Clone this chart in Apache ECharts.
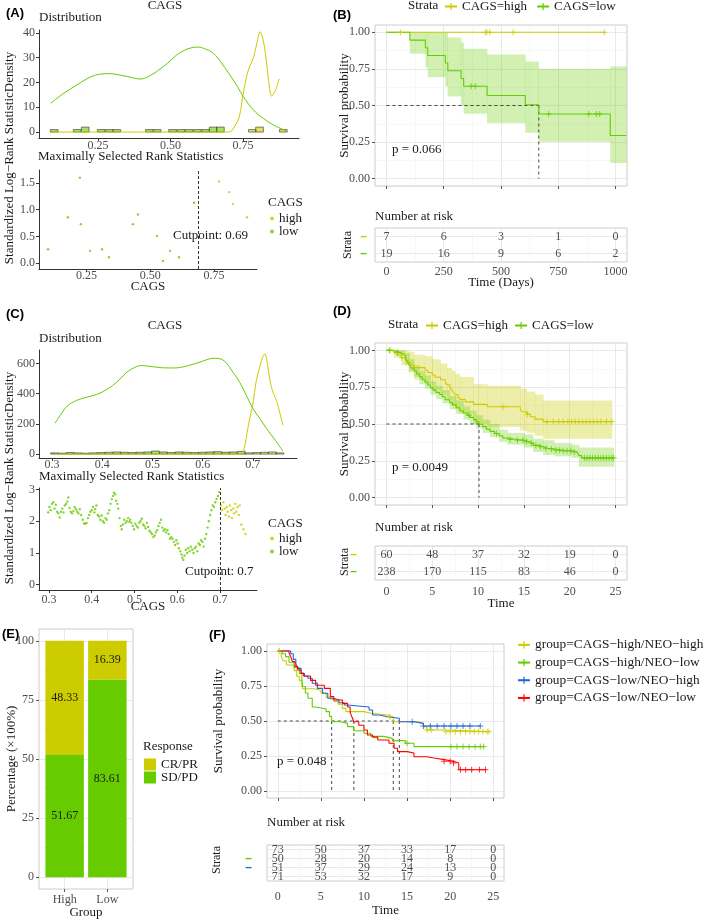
<!DOCTYPE html>
<html>
<head>
<meta charset="utf-8">
<title>CAGS figure</title>
<script src="https://cdn.jsdelivr.net/npm/echarts@6.0.0/dist/echarts.min.js"></script>
<style>
html,body{margin:0;padding:0;background:#ffffff;}
#chart{width:709px;height:920px;}
</style>
</head>
<body>
<div id="chart"></div>
<script>
// ================= DATA =================
// (A) cohort 1 – distribution of CAGS
const aTicksX = [0.25, 0.5, 0.75];
const aTicksDensity = [0, 10, 20, 30, 40];
const aTicksStat = [0, 0.5, 1, 1.5];
const aLowDensity = [[0.087,11.6],[0.13,15.5],[0.177,19],[0.22,22],[0.257,23.4],[0.29,23.6],[0.326,23],[0.36,22.2],[0.395,21.4],[0.42,22.2],[0.452,24.4],[0.49,27.8],[0.521,31.1],[0.56,33.6],[0.596,34.3],[0.625,33.3],[0.648,31.8],[0.675,28],[0.705,23],[0.73,18.5],[0.751,14.3],[0.785,9],[0.82,5.5],[0.86,2.5],[0.9,0.5]];
const aHighDensity = [[0.087,0],[0.3,0],[0.5,0],[0.7,0],[0.711,0.5],[0.725,3],[0.737,6],[0.75,15],[0.768,25],[0.786,30],[0.798,36],[0.809,40.5],[0.818,38],[0.828,31],[0.838,21],[0.849,14.5],[0.862,17],[0.875,21.5]];
const aHistLow = [[0.099,1],[0.178,1],[0.206,2],[0.261,1],[0.289,1],[0.315,1],[0.427,1],[0.454,1],[0.507,1],[0.536,1],[0.564,1],[0.593,1],[0.621,1],[0.647,2],[0.672,2]];
const aHistHigh = [[0.782,1],[0.807,2],[0.889,1]];
const aHistBinWidth = 0.0265;
const aStatLow = [[0.099,0.26],[0.177,0.86],[0.224,1.6],[0.228,0.73],[0.264,0.23],[0.311,0.26],[0.338,0.11],[0.432,0.73],[0.452,0.91],[0.527,0.51],[0.55,0.04],[0.578,0.23],[0.613,0.11],[0.672,1.13]];
const aStatHigh = [[0.77,1.53],[0.81,1.33],[0.825,1.11],[0.88,0.86]];
const aCutpoint = 0.69;

// (B) cohort 1 – Kaplan-Meier
const survTicks = [0, 0.25, 0.5, 0.75, 1];
const bTimes = [0, 250, 500, 750, 1000];
const bHighCurve = [[0,1],[951,1]];
const bHighCensor = [61,432,439,451,553,951];
const bLowCurve = [[0,1],[102,0.947],[170,0.895],[180,0.842],[257,0.79],[268,0.737],[326,0.684],[337,0.632],[439,0.568],[606,0.505],[665,0.442],[977,0.295],[1047,0.295]];
const bLowCensor = [370,388,708,883,916,931];
const bLowBand = [[102,0.854,1],[170,0.76,1],[180,0.694,1],[257,0.63,1],[267,0.562,0.964],[325,0.5,0.93],[337,0.443,0.888],[439,0.379,0.849],[606,0.313,0.801],[664,0.253,0.751],[977,0.107,0.767],[1047,0.107,0.767]];
const bMedians = [665];
const bRiskHigh = [7,6,3,1,0];
const bRiskLow = [19,16,9,6,2];

// (C) cohort 2 – distribution of CAGS
const cTicksX = [0.3, 0.4, 0.5, 0.6, 0.7];
const cTicksDensity = [0, 200, 400, 600];
const cTicksStat = [0, 1, 2, 3];
const cLowDensity = [[0.306,205],[0.318,265],[0.33,318],[0.349,356],[0.37,378],[0.389,395],[0.41,430],[0.429,477],[0.45,545],[0.465,575],[0.478,587],[0.495,582],[0.52,572],[0.545,571],[0.57,585],[0.595,610],[0.621,635],[0.64,625],[0.661,540],[0.674,475],[0.687,390],[0.7,303],[0.715,230],[0.727,171],[0.745,90],[0.76,20]];
const cHighDensity = [[0.306,0],[0.45,0],[0.6,0],[0.677,0],[0.683,40],[0.69,170],[0.696,270],[0.7,330],[0.707,488],[0.714,580],[0.72,645],[0.724,664],[0.729,600],[0.734,488],[0.74,410],[0.747,356],[0.754,270],[0.76,191]];
const cHistLow = [[0.305,8],[0.32,6],[0.336,10],[0.351,8],[0.367,6],[0.382,8],[0.398,10],[0.413,12],[0.429,14],[0.444,12],[0.46,10],[0.475,12],[0.491,14],[0.506,20],[0.522,14],[0.537,10],[0.553,14],[0.568,12],[0.584,10],[0.599,12],[0.615,14],[0.63,16],[0.646,12],[0.661,14],[0.677,18]];
const cHistHigh = [[0.692,8],[0.708,10],[0.723,12],[0.739,14],[0.754,8]];
const cHistBinWidth = 0.0155;
const cStatLow = [[0.298,2.28],[0.301,2.45],[0.304,2.35],[0.307,2.55],[0.31,2.6],[0.313,2.4],[0.316,2.52],[0.319,2.3],[0.322,2.25],[0.325,2.12],[0.328,2.3],[0.331,2.4],[0.334,2.28],[0.337,2.5],[0.34,2.55],[0.343,2.62],[0.345,2.75],[0.348,2.42],[0.351,2.3],[0.354,2.25],[0.357,2.32],[0.36,2.45],[0.363,2.38],[0.366,2.3],[0.369,2.25],[0.372,2.38],[0.375,2.2],[0.379,2.05],[0.382,1.93],[0.385,1.92],[0.388,1.95],[0.391,2.1],[0.394,2.2],[0.397,2.3],[0.4,2.35],[0.403,2.45],[0.406,2.28],[0.408,2.38],[0.411,2.5],[0.414,2.2],[0.417,2.15],[0.42,2.05],[0.423,2.18],[0.426,2.0],[0.429,1.95],[0.432,2.1],[0.435,2.05],[0.438,2.25],[0.441,2.35],[0.444,2.55],[0.447,2.7],[0.45,2.8],[0.452,2.9],[0.455,2.85],[0.457,2.65],[0.46,2.55],[0.462,2.4],[0.465,2.1],[0.468,1.85],[0.47,1.75],[0.473,1.9],[0.476,2.05],[0.479,1.95],[0.482,2.0],[0.485,2.1],[0.488,1.98],[0.49,2.05],[0.493,1.95],[0.496,1.85],[0.499,1.75],[0.502,1.92],[0.505,1.85],[0.508,1.8],[0.511,1.95],[0.514,2.0],[0.517,2.08],[0.52,1.9],[0.523,1.85],[0.526,1.78],[0.529,1.95],[0.532,1.82],[0.535,1.7],[0.538,1.65],[0.541,1.6],[0.544,1.5],[0.547,1.55],[0.55,1.65],[0.553,1.72],[0.556,1.85],[0.559,1.95],[0.562,2.05],[0.565,1.8],[0.568,1.7],[0.571,1.75],[0.574,1.65],[0.577,1.72],[0.58,1.6],[0.583,1.45],[0.586,1.5],[0.589,1.45],[0.592,1.35],[0.595,1.25],[0.598,1.4],[0.601,1.3],[0.604,1.15],[0.607,1.05],[0.61,0.95],[0.612,0.85],[0.614,0.78],[0.617,0.92],[0.62,1.1],[0.623,1.0],[0.626,1.15],[0.629,1.05],[0.632,1.2],[0.635,1.1],[0.638,1.0],[0.641,1.15],[0.644,1.2],[0.647,1.05],[0.65,1.3],[0.653,1.25],[0.656,1.4],[0.659,1.35],[0.662,1.2],[0.665,1.45],[0.668,1.6],[0.671,1.8],[0.674,2.0],[0.677,2.2],[0.68,2.35],[0.683,2.5],[0.686,2.45],[0.689,2.6],[0.692,2.7],[0.695,2.8],[0.698,2.92]];
const cStatHigh = [[0.702,2.5],[0.705,2.35],[0.708,2.6],[0.711,2.4],[0.713,2.2],[0.716,2.45],[0.718,2.3],[0.721,2.15],[0.723,2.5],[0.726,2.35],[0.728,2.1],[0.731,2.4],[0.733,2.25],[0.736,2.55],[0.738,2.3],[0.741,2.45],[0.744,2.2],[0.746,2.5],[0.75,1.9],[0.755,1.75],[0.76,1.6]];
const cCutpoint = 0.7;

// (D) cohort 2 – Kaplan-Meier
const dTimes = [0, 5, 10, 15, 20, 25];
const dHighCurve = [[0,1],[0.8,0.983],[1.2,0.967],[1.6,0.95],[2.1,0.933],[2.4,0.917],[2.7,0.9],[3.0,0.883],[4.2,0.867],[4.5,0.85],[5.0,0.833],[5.3,0.817],[5.9,0.8],[6.4,0.783],[6.6,0.767],[6.9,0.75],[7.1,0.733],[7.3,0.717],[7.5,0.7],[7.8,0.683],[8.0,0.667],[8.6,0.65],[9.5,0.633],[11.0,0.617],[14.6,0.6],[14.8,0.583],[15.3,0.566],[15.7,0.549],[16.2,0.533],[17.1,0.516],[24.6,0.516]];
const dHighCensor = [0.4,1.7,12.7,15.4,17.5,18.2,18.8,19.3,19.8,20.2,20.6,21.0,21.4,21.8,22.2,22.6,23.0,23.4,24.0,24.6];
const dLowCurve = [[0,1],[0.5,0.996],[1.0,0.987],[1.4,0.975],[1.8,0.962],[2.1,0.94],[2.3,0.92],[2.5,0.9],[2.7,0.88],[3.0,0.86],[3.3,0.84],[3.6,0.82],[3.9,0.8],[4.2,0.785],[4.5,0.765],[4.8,0.745],[5.1,0.73],[5.4,0.715],[5.8,0.7],[6.1,0.685],[6.4,0.665],[6.9,0.645],[7.2,0.63],[7.6,0.61],[8.0,0.59],[8.4,0.575],[8.8,0.56],[9.1,0.545],[9.5,0.53],[9.8,0.515],[10.1,0.498],[10.5,0.482],[10.9,0.465],[11.3,0.45],[11.8,0.435],[12.3,0.42],[12.7,0.405],[13.2,0.395],[14.2,0.39],[15.0,0.38],[15.6,0.37],[16.0,0.355],[16.6,0.345],[17.1,0.335],[17.6,0.33],[18.3,0.322],[19.2,0.318],[20.2,0.31],[20.8,0.3],[21.0,0.285],[21.3,0.27],[24.8,0.27]];
const dLowCensor = [0.3,1.2,9.0,12.0,13.5,14.3,14.9,15.3,15.8,16.3,16.8,17.4,18.0,18.5,18.9,19.3,19.7,20.1,20.5,21.6,21.9,22.2,22.5,22.8,23.1,23.4,23.7,24.0,24.3,24.6,24.8];
const dHighBand = [[0,1,1],[0.8,0.95,1],[1.6,0.9,1],[2.4,0.85,0.99],[3.0,0.8,0.97],[4.2,0.77,0.96],[5.0,0.73,0.94],[5.9,0.7,0.91],[6.6,0.66,0.88],[7.1,0.63,0.86],[7.5,0.6,0.84],[8.0,0.57,0.82],[9.5,0.5,0.77],[11.0,0.48,0.76],[14.6,0.455,0.74],[15.3,0.44,0.72],[16.2,0.42,0.7],[17.1,0.4,0.66],[24.6,0.4,0.66]];
const dLowBand = [[0,1,1],[1.0,0.97,1],[2.0,0.9,0.98],[2.5,0.86,0.94],[3.0,0.82,0.9],[3.6,0.77,0.86],[4.2,0.74,0.83],[4.8,0.7,0.79],[5.4,0.67,0.76],[6.1,0.64,0.73],[6.9,0.6,0.69],[7.6,0.57,0.66],[8.4,0.53,0.62],[9.1,0.5,0.59],[9.8,0.47,0.56],[10.5,0.44,0.53],[11.3,0.41,0.5],[12.3,0.38,0.46],[13.2,0.36,0.44],[15.0,0.34,0.43],[16.0,0.31,0.4],[17.1,0.29,0.39],[18.3,0.28,0.37],[20.2,0.27,0.36],[21.0,0.21,0.34],[24.8,0.21,0.34]];
const dMedians = [10.1];
const dRiskHigh = [60,48,37,32,19,0];
const dRiskLow = [238,170,115,83,46,0];

// (E) response by group
const eGroups = ['High', 'Low'];
const ePctTicks = [0, 25, 50, 75, 100];
const eCRPR = [48.33, 16.39];
const eSDPD = [51.67, 83.61];

// (F) CAGS x NEO
const fNames = ['group=CAGS−high/NEO−high','group=CAGS−high/NEO−low','group=CAGS−low/NEO−high','group=CAGS−low/NEO−low'];
const fTimes = [0, 5, 10, 15, 20, 25];
const fCurveHH = [[0,1],[0.4,0.96],[0.6,0.93],[1.0,0.9],[1.9,0.86],[2.2,0.82],[2.5,0.79],[2.8,0.75],[2.9,0.73],[4.2,0.72],[5.0,0.7],[5.6,0.67],[6.1,0.655],[6.5,0.64],[7.0,0.62],[7.5,0.59],[7.9,0.567],[10.0,0.555],[10.8,0.543],[12.7,0.53],[13.4,0.495],[16.2,0.483],[16.9,0.46],[17.3,0.436],[19.3,0.424],[24.5,0.424]];
const fCurveHL = [[0,1],[0.5,0.98],[0.9,0.96],[1.3,0.92],[1.9,0.88],[2.5,0.84],[2.8,0.78],[2.9,0.746],[3.2,0.7],[3.5,0.662],[4.0,0.6],[4.4,0.586],[5.6,0.567],[6.0,0.533],[6.25,0.495],[7.3,0.483],[8.1,0.46],[8.8,0.43],[10.0,0.412],[10.8,0.39],[12.3,0.376],[13.3,0.36],[14.8,0.341],[15.8,0.317],[23.9,0.317]];
const fCurveLH = [[0,1],[1.5,0.98],[1.8,0.94],[2.1,0.91],[2.3,0.876],[2.7,0.84],[3.1,0.82],[3.5,0.805],[4.0,0.77],[4.6,0.733],[5.2,0.698],[5.8,0.662],[6.5,0.65],[7.1,0.63],[7.7,0.614],[8.1,0.6],[10.6,0.579],[11.0,0.543],[11.8,0.53],[12.7,0.52],[14.1,0.495],[15.8,0.483],[16.9,0.464],[23.5,0.464]];
const fCurveLL = [[0,1],[1.3,0.985],[1.5,0.96],[1.7,0.924],[2.0,0.89],[2.3,0.864],[2.7,0.84],[3.0,0.821],[3.8,0.79],[4.4,0.755],[5.4,0.733],[6.1,0.674],[6.5,0.65],[7.5,0.626],[8.1,0.6],[8.4,0.56],[8.6,0.53],[8.83,0.495],[9.4,0.47],[10.0,0.436],[10.4,0.4],[11.0,0.385],[11.6,0.364],[12.9,0.341],[13.5,0.305],[13.9,0.281],[15.0,0.271],[15.8,0.245],[17.3,0.236],[18.1,0.224],[19.3,0.212],[20.4,0.2],[21.0,0.152],[24.1,0.152]];
const fCensorHH = [0.2,13.0,17.3,17.8,19.5,20.0,20.6,21.2,21.8,22.3,22.8,23.3,23.8,24.3,24.5];
const fCensorHL = [15.0,20.1,20.8,21.5,22.2,22.9,23.5,23.9];
const fCensorLH = [15.6,16.9,17.7,18.5,19.3,20.1,20.8,21.5,22.3,23.5];
const fCensorLL = [19.3,20.0,20.4,21.2,21.8,22.5,23.4,24.1];
const fMedians = [6.25, 8.83, 13.4, 14.1];
const fRisk = [[73,50,37,33,17,0],[50,28,20,14,8,0],[51,37,29,24,13,0],[71,53,32,17,9,0]];

// ================= STYLE =================
const SERIF = 'Liberation Serif', SANS = 'Liberation Sans';
const TICK_TXT = '#4d4d4d', TITLE_TXT = '#1a1a1a';
const C_HIGH = '#CCCC00', C_LOW = '#66CC00', C_BLUE = '#2166D9', C_RED = '#FF0000';
const F_COLORS = [C_HIGH, C_LOW, C_BLUE, C_RED];
const BAND_HIGH = 'rgba(204,204,0,0.33)', BAND_LOW = 'rgba(102,204,0,0.3)';
const HIST_LOW = 'rgba(102,204,0,0.6)', HIST_HIGH = 'rgba(204,204,0,0.6)';
const CROSS = 'path://M5,0L5,10M0,5L10,5';
const E_BAR_WIDTH = 0.9;

// ================= BUILDERS =================
const grids = [], xAxes = [], yAxes = [], series = [], legends = [], graphics = [];

function addGrid(left, top, width, height, framed) {
  grids.push({left, top, width, height, containLabel: false, show: !!framed,
    borderColor: '#cccccc', borderWidth: 1, backgroundColor: framed ? '#ffffff' : 'transparent'});
  return grids.length - 1;
}
function minorOf(t) { return t.slice(1).map((v, i) => (v + t[i]) / 2); }

function addAxis(dim, gridIndex, o) {
  const a = {type: 'value', gridIndex, min: o.min, max: o.max, inverse: !!o.inverse, silent: true};
  if (o.kind === 'classic') {
    a.axisLine = {show: true, onZero: false, lineStyle: {color: '#333333', width: 1}};
    a.axisTick = {show: true, length: 3, customValues: o.ticks, lineStyle: {color: '#333333'}};
    a.splitLine = {show: false};
  } else if (o.kind === 'km') {
    a.axisLine = {show: false, onZero: false};
    a.axisTick = {show: o.tick !== false, length: 3, customValues: o.ticks, lineStyle: {color: '#555555'}};
    a.splitLine = {show: true, lineStyle: {color: '#e3e3e3', width: 0.8}};
  } else {
    a.axisLine = {show: false, onZero: false};
    a.axisTick = {show: false, customValues: o.ticks};
    a.splitLine = {show: true, lineStyle: {color: '#f3f3f3', width: 0.6}};
  }
  if (o.kind === 'minor' || o.labels === false) {
    a.axisLabel = {show: false, customValues: o.ticks};
  } else {
    a.axisLabel = Object.assign({show: true, customValues: o.ticks, formatter: o.fmt, color: TICK_TXT,
      fontFamily: SERIF, fontSize: 12, margin: o.margin == null ? 4 : o.margin}, o.label || {});
  }
  if (o.name) {
    a.name = o.name; a.nameLocation = 'middle'; a.nameGap = o.nameGap; a.nameRotate = o.nameRotate || 0;
    a.nameMoveOverlap = false;
    a.nameTextStyle = {color: TITLE_TXT, fontFamily: SERIF, fontSize: 13};
  }
  const arr = dim === 'x' ? xAxes : yAxes;
  arr.push(a);
  return arr.length - 1;
}

function survAt(curve, t) {
  let s = curve[0][1];
  for (const p of curve) { if (p[0] <= t) s = p[1]; else break; }
  return s;
}
function kmLine(name, xi, yi, data, color) {
  series.push({type: 'line', name, xAxisIndex: xi, yAxisIndex: yi, data, step: 'end',
    symbol: CROSS, showSymbol: false, symbolSize: 8, silent: true, z: 4,
    lineStyle: {color, width: 1.1}, itemStyle: {color, borderColor: color, borderWidth: 1}});
}
function censor(xi, yi, curve, times, color) {
  series.push({type: 'scatter', xAxisIndex: xi, yAxisIndex: yi, silent: true, z: 5,
    data: times.map(t => [t, survAt(curve, t)]), symbol: CROSS, symbolSize: 6,
    itemStyle: {color: 'rgba(0,0,0,0)', borderColor: color, borderWidth: 1}});
}
function band(xi, yi, rows, fill) {
  const data = rows.slice(0, -1).map((r, i) => [r[0], rows[i + 1][0], r[1], r[2]]);
  series.push({type: 'custom', xAxisIndex: xi, yAxisIndex: yi, data, silent: true, z: 2,
    encode: {x: [0, 1], y: [2, 3]},
    renderItem: (params, api) => {
      const p0 = api.coord([api.value(0), api.value(3)]);
      const p1 = api.coord([api.value(1), api.value(2)]);
      return {type: 'rect', shape: {x: p0[0], y: p0[1], width: p1[0] - p0[0] + 0.4, height: p1[1] - p0[1]},
        style: {fill}};
    }});
}
function histogram(xi, yi, bars, bw, fill) {
  series.push({type: 'custom', xAxisIndex: xi, yAxisIndex: yi, data: bars, silent: true, z: 2,
    encode: {x: 0, y: 1},
    renderItem: (params, api) => {
      const a = api.coord([api.value(0) - bw / 2, api.value(1)]);
      const b = api.coord([api.value(0) + bw / 2, 0]);
      return {type: 'rect', shape: {x: a[0], y: a[1], width: b[0] - a[0], height: b[1] - a[1]},
        style: {fill, stroke: '#333333', lineWidth: 0.6}};
    }});
}
function stackSegment(name, xi, yi, rows, fill) {
  // rows: [groupPosition, bottom, top]
  series.push({type: 'custom', name, xAxisIndex: xi, yAxisIndex: yi, data: rows, silent: true, z: 3,
    itemStyle: {color: fill}, encode: {x: 0, y: [1, 2]},
    renderItem: (params, api) => {
      const a = api.coord([api.value(0) - E_BAR_WIDTH / 2, api.value(2)]);
      const b = api.coord([api.value(0) + E_BAR_WIDTH / 2, api.value(1)]);
      const share = api.value(2) - api.value(1);
      return {type: 'group', children: [
        {type: 'rect', shape: {x: a[0], y: a[1], width: b[0] - a[0], height: b[1] - a[1]}, style: {fill}},
        {type: 'text', x: (a[0] + b[0]) / 2, y: (a[1] + b[1]) / 2,
          style: {text: share.toFixed(2), align: 'center', verticalAlign: 'middle', fill: '#1a1a1a',
            fontFamily: SERIF, fontSize: 12}}]};
    }});
}
function densityLine(xi, yi, data, color) {
  series.push({type: 'line', xAxisIndex: xi, yAxisIndex: yi, data, smooth: 0.35, symbol: 'none',
    silent: true, z: 3, lineStyle: {color, width: 1}});
}
function statPoints(name, xi, yi, data, color) {
  series.push({type: 'scatter', name, xAxisIndex: xi, yAxisIndex: yi, data, symbol: 'circle',
    symbolSize: 2.4, silent: true, itemStyle: {color}});
}
function cutLine(xi, yi, cut) {
  series.push({type: 'line', xAxisIndex: xi, yAxisIndex: yi, data: [], silent: true,
    markLine: {silent: true, symbol: 'none', label: {show: false}, animation: false,
      lineStyle: {type: [3, 2], color: '#333333', width: 1}, data: [{xAxis: cut}]}});
}
function dashSeg(xi, yi, data) {
  series.push({type: 'line', xAxisIndex: xi, yAxisIndex: yi, data, symbol: 'none', silent: true, z: 3,
    lineStyle: {type: [3, 3], color: '#333333', width: 0.9}});
}
function medianLines(xi, yi, meds) {
  const mx = Math.max(...meds);
  dashSeg(xi, yi, [[0, 0.5], [mx, 0.5]]);
  meds.forEach(m => dashSeg(xi, yi, [[m, 0.5], [m, 0]]));
}
function riskTable(xi, yi, times, rows) {
  rows.forEach((r, ri) => {
    series.push({type: 'scatter', xAxisIndex: xi, yAxisIndex: yi, symbolSize: 1, silent: true, z: 5,
      itemStyle: {color: 'rgba(0,0,0,0)'},
      data: times.map((t, k) => [t, ri + 1, r[k]]),
      label: {show: true, position: 'inside', formatter: p => String(p.value[2]),
        color: '#222222', fontFamily: SERIF, fontSize: 12}});
  });
}
function dashLabels(colors) {
  const rich = {};
  colors.forEach((c, i) => { rich['s' + (i + 1)] = {color: c, fontFamily: SANS, fontSize: 12, fontWeight: 'bold'}; });
  return {rich};
}
function txt(s, x, y, o) {
  o = o || {};
  graphics.push({type: 'text', x, y, rotation: o.rot || 0, silent: true, z: 10,
    style: {text: s, fill: o.fill || TITLE_TXT, fontFamily: o.family || SERIF, fontSize: o.size || 13,
      fontWeight: o.weight || 'normal', align: o.align || 'left', verticalAlign: 'middle'}});
}
function panelLabel(s, x, y) { txt(s, x, y, {family: SANS, weight: 'bold', size: 13, fill: '#000000'}); }

// ================= PANEL A =================
const gA1 = addGrid(39, 30, 260, 108, false);
const xA1 = addAxis('x', gA1, {kind: 'classic', min: 0.0466, max: 0.943, ticks: aTicksX, fmt: v => v.toFixed(2), margin: 2});
const yA1 = addAxis('y', gA1, {kind: 'classic', min: -2.4, max: 41.2, ticks: aTicksDensity, fmt: v => String(v), margin: 4});
histogram(xA1, yA1, aHistLow, aHistBinWidth, HIST_LOW);
histogram(xA1, yA1, aHistHigh, aHistBinWidth, HIST_HIGH);
densityLine(xA1, yA1, aHighDensity, C_HIGH);
densityLine(xA1, yA1, aLowDensity, C_LOW);

const gA2 = addGrid(39, 170, 218, 99, false);
const xA2 = addAxis('x', gA2, {kind: 'classic', min: 0.0636, max: 0.919, ticks: aTicksX, fmt: v => v.toFixed(2), margin: 1, name: 'CAGS', nameGap: 11});
const yA2 = addAxis('y', gA2, {kind: 'classic', min: -0.11, max: 1.744, ticks: aTicksStat, fmt: v => v.toFixed(1), margin: 4});
cutLine(xA2, yA2, aCutpoint);
statPoints('low', xA2, yA2, aStatLow, C_LOW);
statPoints('high', xA2, yA2, aStatHigh, C_HIGH);

panelLabel('(A)', 6, 13);
txt('CAGS', 165, 6, {align: 'center'});
txt('Distribution', 39, 18);
txt('Maximally Selected Rank Statistics', 38, 157);
txt('Cutpoint: 0.69', 173, 236);
txt('CAGS', 268, 203);
txt('Standardized Log−Rank StatisticDensity', 10, 158, {rot: Math.PI / 2, align: 'center'});
legends.push({data: ['high', 'low'], orient: 'vertical', left: 270, top: 212, padding: 0, itemGap: 0,
  icon: 'circle', itemWidth: 4, itemHeight: 4, selectedMode: false,
  textStyle: {fontFamily: SERIF, fontSize: 13, lineHeight: 11, color: TITLE_TXT}});

// ================= PANEL B =================
const gB = addGrid(375, 25, 252, 161, true);
const xB = addAxis('x', gB, {kind: 'km', min: -50, max: 1050, ticks: bTimes, labels: false});
addAxis('x', gB, {kind: 'minor', min: -50, max: 1050, ticks: minorOf(bTimes)});
const yB = addAxis('y', gB, {kind: 'km', min: -0.05, max: 1.05, ticks: survTicks, fmt: v => v.toFixed(2), margin: 5,
  name: 'Survival probability', nameGap: 24, nameRotate: 90});
addAxis('y', gB, {kind: 'minor', min: -0.05, max: 1.05, ticks: minorOf(survTicks)});
band(xB, yB, bLowBand, BAND_LOW);
medianLines(xB, yB, bMedians);
kmLine('CAGS=high', xB, yB, bHighCurve, C_HIGH);
kmLine('CAGS=low', xB, yB, bLowCurve, C_LOW);
censor(xB, yB, bHighCurve, bHighCensor, C_HIGH);
censor(xB, yB, bLowCurve, bLowCensor, C_LOW);

const gBt = addGrid(375, 228, 252, 34, true);
const xBt = addAxis('x', gBt, {kind: 'km', min: -50, max: 1050, ticks: bTimes, tick: false, fmt: v => String(v), margin: 4,
  name: 'Time (Days)', nameGap: 14});
addAxis('x', gBt, {kind: 'minor', min: -50, max: 1050, ticks: minorOf(bTimes)});
const yBt = addAxis('y', gBt, {kind: 'km', min: 0.5, max: 2.5, inverse: true, ticks: [1, 2], tick: false, margin: 8,
  fmt: v => '{s' + v + '|–}', label: dashLabels([C_HIGH, C_LOW])});
riskTable(xBt, yBt, bTimes, [bRiskHigh, bRiskLow]);

panelLabel('(B)', 333, 15);
txt('Strata', 408, 6);
txt('p = 0.066', 392, 150);
txt('Number at risk', 375, 217);
txt('Strata', 348, 245, {rot: Math.PI / 2, align: 'center', size: 12});
legends.push({data: ['CAGS=high', 'CAGS=low'], orient: 'horizontal', left: 444, top: 0, padding: 0, itemGap: 9,
  itemWidth: 12, itemHeight: 9, selectedMode: false, itemStyle: {borderWidth: 1.2},
  textStyle: {fontFamily: SERIF, fontSize: 13, lineHeight: 13, color: TITLE_TXT}});

// ================= PANEL C =================
const gC1 = addGrid(39, 350, 258, 108, false);
const xC1 = addAxis('x', gC1, {kind: 'classic', min: 0.274, max: 0.788, ticks: cTicksX, fmt: v => v.toFixed(1), margin: 1});
const yC1 = addAxis('y', gC1, {kind: 'classic', min: -26, max: 690, ticks: cTicksDensity, fmt: v => String(v), margin: 4});
histogram(xC1, yC1, cHistLow, cHistBinWidth, HIST_LOW);
histogram(xC1, yC1, cHistHigh, cHistBinWidth, HIST_HIGH);
densityLine(xC1, yC1, cHighDensity, C_HIGH);
densityLine(xC1, yC1, cLowDensity, C_LOW);

const gC2 = addGrid(39, 488, 218, 102, false);
const xC2 = addAxis('x', gC2, {kind: 'classic', min: 0.2766, max: 0.7866, ticks: cTicksX, fmt: v => v.toFixed(1), margin: 4, name: 'CAGS', nameGap: 10});
const yC2 = addAxis('y', gC2, {kind: 'classic', min: -0.17, max: 3.05, ticks: cTicksStat, fmt: v => String(v), margin: 4});
cutLine(xC2, yC2, cCutpoint);
statPoints('low', xC2, yC2, cStatLow, C_LOW);
statPoints('high', xC2, yC2, cStatHigh, C_HIGH);

panelLabel('(C)', 6, 314);
txt('CAGS', 165, 326, {align: 'center'});
txt('Distribution', 39, 339);
txt('Maximally Selected Rank Statistics', 39, 477);
txt('Cutpoint: 0.7', 185, 572);
txt('CAGS', 268, 524);
txt('Standardized Log−Rank StatisticDensity', 10, 478, {rot: Math.PI / 2, align: 'center'});
legends.push({data: ['high', 'low'], orient: 'vertical', left: 270, top: 532, padding: 0, itemGap: 0,
  icon: 'circle', itemWidth: 4, itemHeight: 4, selectedMode: false,
  textStyle: {fontFamily: SERIF, fontSize: 13, lineHeight: 11, color: TITLE_TXT}});

// ================= PANEL D =================
const gD = addGrid(375, 343, 252, 162, true);
const xD = addAxis('x', gD, {kind: 'km', min: -1.25, max: 26.25, ticks: dTimes, labels: false});
addAxis('x', gD, {kind: 'minor', min: -1.25, max: 26.25, ticks: minorOf(dTimes)});
const yD = addAxis('y', gD, {kind: 'km', min: -0.05, max: 1.05, ticks: survTicks, fmt: v => v.toFixed(2), margin: 5,
  name: 'Survival probability', nameGap: 24, nameRotate: 90});
addAxis('y', gD, {kind: 'minor', min: -0.05, max: 1.05, ticks: minorOf(survTicks)});
band(xD, yD, dHighBand, BAND_HIGH);
band(xD, yD, dLowBand, BAND_LOW);
medianLines(xD, yD, dMedians);
kmLine('CAGS=high', xD, yD, dHighCurve, C_HIGH);
kmLine('CAGS=low', xD, yD, dLowCurve, C_LOW);
censor(xD, yD, dHighCurve, dHighCensor, C_HIGH);
censor(xD, yD, dLowCurve, dLowCensor, C_LOW);

const gDt = addGrid(375, 546, 252, 34, true);
const xDt = addAxis('x', gDt, {kind: 'km', min: -1.25, max: 26.25, ticks: dTimes, tick: false, fmt: v => String(v), margin: 6,
  name: 'Time', nameGap: 17});
addAxis('x', gDt, {kind: 'minor', min: -1.25, max: 26.25, ticks: minorOf(dTimes)});
const yDt = addAxis('y', gDt, {kind: 'km', min: 0.5, max: 2.5, inverse: true, ticks: [1, 2], tick: false, margin: 18,
  fmt: v => '{s' + v + '|–}', label: dashLabels([C_HIGH, C_LOW])});
riskTable(xDt, yDt, dTimes, [dRiskHigh, dRiskLow]);

panelLabel('(D)', 333, 311);
txt('Strata', 388, 325);
txt('p = 0.0049', 392, 468);
txt('Number at risk', 375, 528);
txt('Strata', 345, 562, {rot: Math.PI / 2, align: 'center', size: 12});
legends.push({data: ['CAGS=high', 'CAGS=low'], orient: 'horizontal', left: 425, top: 319, padding: 0, itemGap: 6,
  itemWidth: 12, itemHeight: 9, selectedMode: false, itemStyle: {borderWidth: 1.2},
  textStyle: {fontFamily: SERIF, fontSize: 13, lineHeight: 13, color: TITLE_TXT}});

// ================= PANEL E =================
const gE = addGrid(39, 629, 94, 262, true);
const xE = addAxis('x', gE, {kind: 'km', min: 0.4, max: 2.6, ticks: [1, 2], fmt: v => eGroups[Math.round(v) - 1], margin: 5,
  name: 'Group', nameGap: 17});
const yE = addAxis('y', gE, {kind: 'km', min: -5, max: 105, ticks: ePctTicks, fmt: v => String(v), margin: 5,
  name: 'Percentage (×100%)', nameGap: 21, nameRotate: 90});
addAxis('y', gE, {kind: 'minor', min: -5, max: 105, ticks: minorOf(ePctTicks)});
stackSegment('SD/PD', xE, yE, eGroups.map((g, i) => [i + 1, 0, eSDPD[i]]), C_LOW);
stackSegment('CR/PR', xE, yE, eGroups.map((g, i) => [i + 1, eSDPD[i], eSDPD[i] + eCRPR[i]]), C_HIGH);
panelLabel('(E)', 2, 634);
txt('Response', 143, 747);
legends.push({data: ['CR/PR', 'SD/PD'], orient: 'vertical', left: 144, top: 758, padding: 0, itemGap: 0,
  icon: 'rect', itemWidth: 12, itemHeight: 12, selectedMode: false, itemStyle: {borderWidth: 0},
  textStyle: {fontFamily: SERIF, fontSize: 13, lineHeight: 12, color: TITLE_TXT}});

// ================= PANEL F =================
const gF = addGrid(267, 644, 237, 154, true);
const xF = addAxis('x', gF, {kind: 'km', min: -1.25, max: 26.25, ticks: fTimes, labels: false});
addAxis('x', gF, {kind: 'minor', min: -1.25, max: 26.25, ticks: minorOf(fTimes)});
const yF = addAxis('y', gF, {kind: 'km', min: -0.05, max: 1.05, ticks: survTicks, fmt: v => v.toFixed(2), margin: 5,
  name: 'Survival probability', nameGap: 42, nameRotate: 90});
addAxis('y', gF, {kind: 'minor', min: -0.05, max: 1.05, ticks: minorOf(survTicks)});
medianLines(xF, yF, fMedians);
const fCurves = [fCurveHH, fCurveHL, fCurveLH, fCurveLL];
const fCensors = [fCensorHH, fCensorHL, fCensorLH, fCensorLL];
fCurves.forEach((c, i) => kmLine(fNames[i], xF, yF, c, F_COLORS[i]));
fCurves.forEach((c, i) => censor(xF, yF, c, fCensors[i], F_COLORS[i]));

const gFt = addGrid(267, 845, 237, 36, true);
const xFt = addAxis('x', gFt, {kind: 'km', min: -1.25, max: 26.25, ticks: fTimes, tick: false, fmt: v => String(v), margin: 10,
  name: 'Time', nameGap: 23});
addAxis('x', gFt, {kind: 'minor', min: -1.25, max: 26.25, ticks: minorOf(fTimes)});
const yFt = addAxis('y', gFt, {kind: 'km', min: 0.5, max: 4.5, inverse: true, ticks: [1, 2, 3, 4], tick: false, margin: 15,
  fmt: v => '{s' + v + '|–}', label: dashLabels(F_COLORS)});
riskTable(xFt, yFt, fTimes, fRisk);

panelLabel('(F)', 209, 635);
txt('p = 0.048', 277, 762);
txt('Number at risk', 267, 823);
txt('Strata', 217, 860, {rot: Math.PI / 2, align: 'center', size: 12});
legends.push({data: fNames, orient: 'vertical', left: 517, top: 636, padding: 0, itemGap: 0,
  itemWidth: 12, itemHeight: 9, selectedMode: false, itemStyle: {borderWidth: 1.2},
  textStyle: {fontFamily: SERIF, fontSize: 13.4, lineHeight: 17.7, color: TITLE_TXT}});

// ================= RENDER =================
const chart = echarts.init(document.getElementById('chart'), null, {renderer: 'canvas', width: 709, height: 920});
chart.setOption({
  animation: false,
  backgroundColor: '#ffffff',
  textStyle: {fontFamily: SERIF},
  grid: grids, xAxis: xAxes, yAxis: yAxes,
  legend: legends, series, graphic: graphics
});
</script>
</body>
</html>
